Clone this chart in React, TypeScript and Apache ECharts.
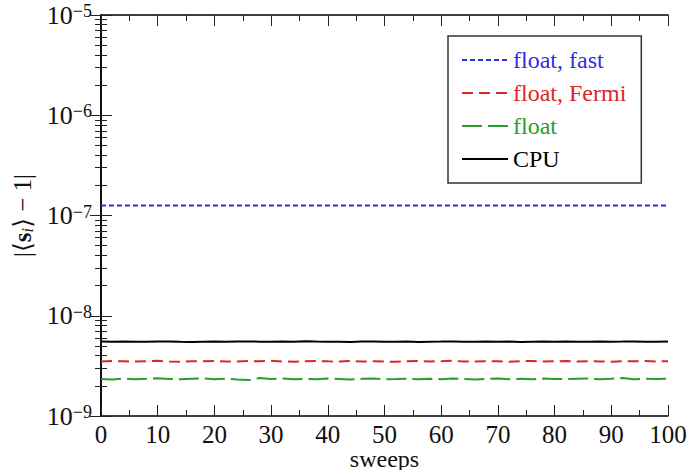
import React, { useEffect, useRef } from "react";
import * as echarts from "echarts";

const sweeps = [
  0, 2, 4, 6, 8, 10, 12, 14, 16, 18,
  20, 22, 24, 26, 28, 30, 32, 34, 36, 38,
  40, 42, 44, 46, 48, 50, 52, 54, 56, 58,
  60, 62, 64, 66, 68, 70, 72, 74, 76, 78,
  80, 82, 84, 86, 88, 90, 92, 94, 96, 98,
  100,
];

// values in units of 1e-7
const floatFastE7 = [
  1.26, 1.26, 1.261, 1.26, 1.259, 1.26, 1.26, 1.261, 1.26, 1.26,
  1.259, 1.26, 1.26, 1.261, 1.26, 1.26, 1.259, 1.26, 1.26, 1.261,
  1.26, 1.26, 1.259, 1.26, 1.261, 1.26, 1.26, 1.26, 1.259, 1.26,
  1.261, 1.26, 1.26, 1.259, 1.26, 1.26, 1.261, 1.26, 1.26, 1.259,
  1.26, 1.261, 1.26, 1.26, 1.259, 1.26, 1.26, 1.261, 1.26, 1.26,
  1.26,
];

// values in units of 1e-9
const floatFermiE9 = [
  3.5, 3.53, 3.51, 3.49, 3.52, 3.55, 3.5, 3.48, 3.52, 3.51,
  3.54, 3.5, 3.49, 3.53, 3.51, 3.56, 3.5, 3.48, 3.52, 3.54,
  3.51, 3.5, 3.53, 3.49, 3.52, 3.5, 3.47, 3.51, 3.53, 3.5,
  3.52, 3.55, 3.5, 3.49, 3.52, 3.51, 3.47, 3.52, 3.54, 3.5,
  3.51, 3.53, 3.49, 3.52, 3.5, 3.48, 3.52, 3.51, 3.53, 3.5,
  3.52,
];

const floatE9 = [
  2.34, 2.31, 2.36, 2.33, 2.35, 2.38, 2.34, 2.32, 2.35, 2.37,
  2.33, 2.36, 2.31, 2.28, 2.39, 2.34, 2.36, 2.33, 2.35, 2.32,
  2.36, 2.34, 2.31, 2.35, 2.37, 2.33, 2.34, 2.36, 2.32, 2.35,
  2.33, 2.36, 2.34, 2.31, 2.35, 2.37, 2.33, 2.35, 2.32, 2.36,
  2.34, 2.33, 2.35, 2.37, 2.32, 2.35, 2.39, 2.33, 2.35, 2.34,
  2.36,
];

const cpuE9 = [
  5.52, 5.5, 5.53, 5.51, 5.49, 5.52, 5.55, 5.5, 5.48, 5.51,
  5.53, 5.5, 5.52, 5.54, 5.51, 5.49, 5.52, 5.5, 5.56, 5.53,
  5.51, 5.5, 5.48, 5.52, 5.54, 5.51, 5.5, 5.53, 5.47, 5.5,
  5.52, 5.55, 5.51, 5.49, 5.53, 5.5, 5.52, 5.48, 5.51, 5.54,
  5.5, 5.52, 5.49, 5.51, 5.53, 5.5, 5.52, 5.55, 5.51, 5.5,
  5.52,
];

const seriesNames = ["float, fast", "float, Fermi", "float", "CPU"];
const seriesColors = ["#2f2fe0", "#dc2626", "#2a9d2a", "#000000"];

const majorYTicks = [1e-9, 1e-8, 1e-7, 1e-6, 1e-5];
const minorYTicks = [
  2e-9, 3e-9, 4e-9, 5e-9, 6e-9, 7e-9, 8e-9, 9e-9,
  2e-8, 3e-8, 4e-8, 5e-8, 6e-8, 7e-8, 8e-8, 9e-8,
  2e-7, 3e-7, 4e-7, 5e-7, 6e-7, 7e-7, 8e-7, 9e-7,
  2e-6, 3e-6, 4e-6, 5e-6, 6e-6, 7e-6, 8e-6, 9e-6,
];

const FONT = "Liberation Serif";

export default function App() {
  const ref = useRef<HTMLDivElement>(null);

  useEffect(() => {
    if (!ref.current) return;
    const styleEl = document.createElement("style");
    styleEl.textContent =
      'svg text, svg tspan { font-family: "Liberation Serif", "DejaVu Serif", serif !important; }';
    document.head.appendChild(styleEl);

    const chart = echarts.init(ref.current, null, { renderer: "svg" });

    const mk = (vals: number[], scale: number) =>
      sweeps.map((x, i) => [x, vals[i] * scale]);

    const dashes = [[5, 3], [11, 6], [20, 6], "solid"] as any[];
    const datasets = [
      mk(floatFastE7, 1e-7),
      mk(floatFermiE9, 1e-9),
      mk(floatE9, 1e-9),
      mk(cpuE9, 1e-9),
    ];

    const axisLine = { show: true, lineStyle: { color: "#000", width: 1.5 } };
    const tickStyle = { color: "#222", width: 1 };

    const xBase = {
      type: "value",
      min: 0,
      max: 100,
      gridIndex: 0,
      splitLine: { show: false },
    };
    const yBase = {
      type: "log",
      logBase: 10,
      min: 1e-9,
      max: 1e-5,
      gridIndex: 0,
      splitLine: { show: false },
      minorTick: { show: false },
    };

    chart.setOption({
      animation: false,
      textStyle: { fontFamily: FONT },
      grid: {
        left: 101,
        right: 19,
        top: 15,
        bottom: 54,
        containLabel: false,
        outerBoundsMode: "none",
      },
      legend: {
        orient: "vertical",
        left: 448,
        top: 36,
        padding: [12, 15, 12, 13],
        itemWidth: 46,
        itemHeight: 20,
        itemGap: 9,
        borderColor: "#333",
        borderWidth: 1.5,
        backgroundColor: "#fff",
        itemStyle: { opacity: 0 },
        textStyle: { fontSize: 24, fontFamily: FONT },
        data: seriesNames.map((n, i) => ({
          name: n,
          textStyle: { color: seriesColors[i], fontFamily: FONT, fontSize: 24 },
        })),
      },
      xAxis: [
        {
          ...xBase,
          position: "bottom",
          interval: 10,
          axisLine,
          axisTick: { show: true, inside: true, length: 11, lineStyle: tickStyle },
          axisLabel: { show: true, fontSize: 25, fontFamily: FONT, color: "#111", margin: 6 },
          name: "sweeps",
          nameLocation: "middle",
          nameGap: 31,
          nameMoveOverlap: false,
          nameTextStyle: { fontSize: 24, fontFamily: FONT, color: "#111" },
        },
        {
          ...xBase,
          position: "bottom",
          interval: 5,
          axisLine: { show: false },
          axisTick: { show: true, inside: true, length: 6, lineStyle: tickStyle },
          axisLabel: { show: false },
        },
        {
          ...xBase,
          position: "top",
          interval: 10,
          axisLine,
          axisTick: { show: true, inside: true, length: 11, lineStyle: tickStyle },
          axisLabel: { show: false },
        },
        {
          ...xBase,
          position: "top",
          interval: 5,
          axisLine: { show: false },
          axisTick: { show: true, inside: true, length: 6, lineStyle: tickStyle },
          axisLabel: { show: false },
        },
      ],
      yAxis: [
        {
          ...yBase,
          position: "left",
          axisLine,
          axisTick: {
            show: true,
            inside: true,
            length: 11,
            customValues: majorYTicks,
            lineStyle: tickStyle,
          },
          axisLabel: {
            show: true,
            customValues: majorYTicks,
            margin: 9,
            fontFamily: FONT,
            color: "#111",
            formatter: (v: number) => {
              const e = Math.round(Math.log10(v));
              return "{b|10}{s|\u2212" + Math.abs(e) + "}";
            },
            rich: {
              b: { fontSize: 26, fontFamily: FONT, color: "#111", lineHeight: 26 },
              s: {
                fontSize: 18,
                fontFamily: FONT,
                color: "#111",
                verticalAlign: "top",
                lineHeight: 10,
                padding: [0, 0, 16, 0],
              },
            },
          },
          name: "|\u27e8{b|s}{i|i}\u27e9 \u2212 1|",
          nameLocation: "middle",
          nameGap: 66,
          nameRotate: 90,
          nameMoveOverlap: false,
          nameTextStyle: {
            fontSize: 25,
            fontFamily: FONT,
            color: "#111",
            rich: {
              b: { fontSize: 25, fontWeight: "bold", fontFamily: FONT, color: "#111" },
              i: {
                fontSize: 16,
                fontStyle: "italic",
                fontFamily: FONT,
                color: "#111",
                verticalAlign: "bottom",
                padding: [10, 0, 0, 0],
              },
            },
          },
        },
        {
          ...yBase,
          position: "left",
          axisLine: { show: false },
          axisTick: {
            show: true,
            inside: true,
            length: 6,
            customValues: minorYTicks,
            lineStyle: tickStyle,
          },
          axisLabel: { show: false },
        },
        {
          ...yBase,
          position: "right",
          axisLine,
          axisTick: {
            show: true,
            inside: true,
            length: 11,
            customValues: majorYTicks,
            lineStyle: tickStyle,
          },
          axisLabel: { show: false },
        },
        {
          ...yBase,
          position: "right",
          axisLine: { show: false },
          axisTick: {
            show: true,
            inside: true,
            length: 6,
            customValues: minorYTicks,
            lineStyle: tickStyle,
          },
          axisLabel: { show: false },
        },
      ],
      series: seriesNames.map((n, i) => ({
        name: n,
        type: "line",
        xAxisIndex: 0,
        yAxisIndex: 0,
        data: datasets[i],
        showSymbol: false,
        symbol: "none",
        smooth: false,
        z: 3,
        color: seriesColors[i],
        lineStyle: { color: seriesColors[i], width: 2, type: dashes[i] },
      })),
    });

    return () => {
      chart.dispose();
      styleEl.remove();
    };
  }, []);

  return (
    <div
      ref={ref}
      style={{ position: "fixed", left: 0, top: 0, width: 687, height: 470, background: "#fff" }}
    />
  );
}
